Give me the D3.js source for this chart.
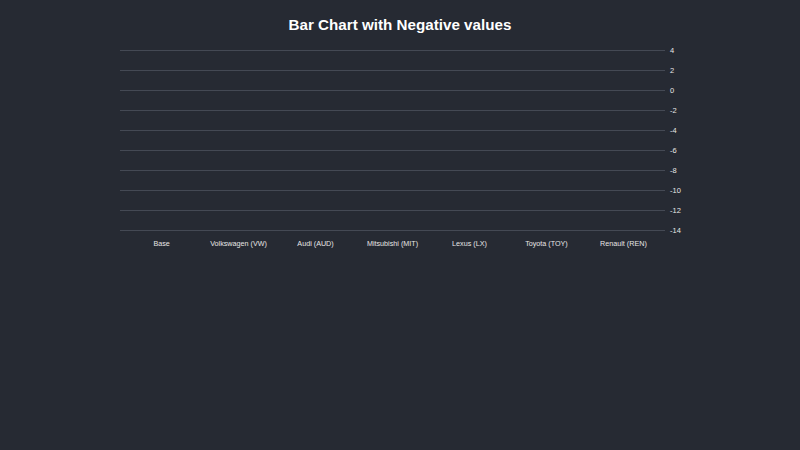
<!DOCTYPE html>
<html>
<head>
<meta charset="utf-8">
<script src="https://cdn.jsdelivr.net/npm/d3@7"></script>
<style>
  html, body { margin: 0; padding: 0; background: #262a33; }
  svg text { font-family: "Liberation Sans", Arial, sans-serif; }
</style>
</head>
<body>
<div id="chart"></div>
<script>
// categories shown on the x axis
var categories = ['Base', 'Volkswagen (VW)', 'Audi (AUD)', 'Mitsubishi (MIT)', 'Lexus (LX)', 'Toyota (TOY)', 'Renault (REN)'];

// y axis ticks
var yTicks = [4, 2, 0, -2, -4, -6, -8, -10, -12, -14];
var yDomain = [-14, 4];

var width = 800,
    height = 450;

var svg = d3.select('#chart')
            .append('svg')
            .attr('width', width)
            .attr('height', height);

svg.append('rect')
   .attr('width', width)
   .attr('height', height)
   .attr('fill', '#262a33');

// title
svg.append('text')
   .attr('x', 400)
   .attr('y', 30)
   .attr('text-anchor', 'middle')
   .attr('fill', '#ffffff')
   .style('font-size', '15.2px')
   .style('font-weight', 'bold')
   .text('Bar Chart with Negative values');

var x = d3.scaleBand()
          .domain(categories)
          .range([120, 665])
          .padding(0.08);

// d3 axis shifts ticks by half a pixel, so whole numbers keep lines crisp
var y = d3.scaleLinear()
          .domain(yDomain)
          .range([230, 50]);

// right hand y axis with gridlines across the plot
var yAxis = d3.axisRight(y)
              .tickValues(yTicks)
              .tickFormat(function(d) { return String(d); })
              .tickSize(0)
              .tickPadding(5);

var yAxisG = svg.append('g')
                .attr('class', 'y axis')
                .attr('transform', 'translate(665,0)')
                .call(yAxis);

yAxisG.select('.domain').remove();
yAxisG.selectAll('.tick line')
      .attr('x1', 0)
      .attr('x2', -545)
      .attr('stroke', '#444954')
      .attr('stroke-width', 1);
yAxisG.selectAll('.tick text')
      .attr('fill', '#e6e6e6')
      .style('font-size', '7.5px');

// x axis labels under the plot
var xAxis = d3.axisBottom(x)
              .tickSize(0)
              .tickPadding(10);

var xAxisG = svg.append('g')
                .attr('class', 'x axis')
                .attr('transform', 'translate(0,231)')
                .call(xAxis);

xAxisG.select('.domain').remove();
xAxisG.selectAll('.tick text')
      .attr('fill', '#e6e6e6')
      .style('font-size', '7.2px');
</script>
</body>
</html>
